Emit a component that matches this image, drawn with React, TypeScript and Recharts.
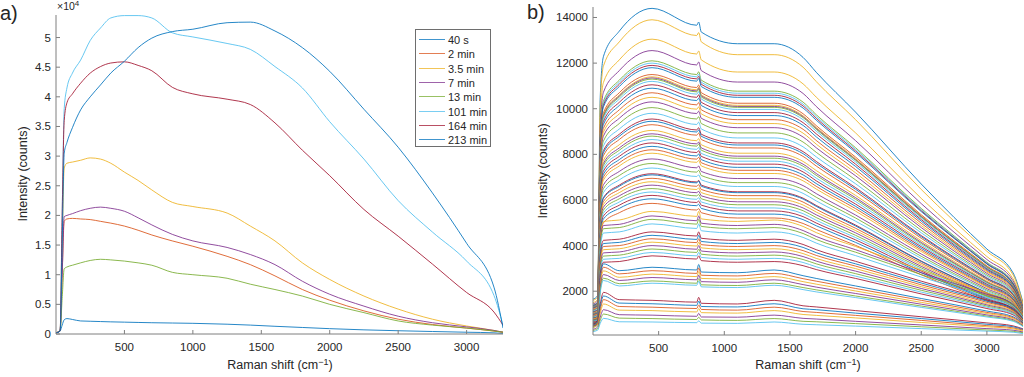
import { LineChart, Line, XAxis, YAxis } from "recharts";

const FONT = "'Liberation Sans', Arial, Helvetica, sans-serif";
const AX = "#7f7f7f";
const TX = "#262626";
const PALETTE = ["#0072BD", "#D95319", "#EDB120", "#7E2F8E", "#77AC30", "#4DBEEE", "#A2142F"];

// ---- panel a ----
const A_X = [0, 30, 45, 60, 80, 120, 180, 250, 325, 400, 500, 600, 700, 850, 1000, 1250, 1420, 1600, 1800, 2000, 2250, 2500, 2750, 3000, 3200, 3266];
const A_NAMES = ["40 s", "2 min", "3.5 min", "7 min", "13 min", "101 min", "164 min", "213 min"];
const A_COLORS = ["#0072BD", "#D95319", "#EDB120", "#7E2F8E", "#77AC30", "#4DBEEE", "#A2142F", "#0072BD"];
const a40s = [200, 500, 1500, 2400, 2600, 2450, 2200, 2150, 2100, 2050, 2000, 1950, 1900, 1850, 1800, 1650, 1500, 1300, 1100, 900, 700, 550, 420, 300, 200, 100];
const a2min = [200, 600, 10000, 19000, 19400, 19500, 19400, 19300, 19000, 18700, 18200, 17500, 16700, 15700, 14800, 13100, 11700, 9800, 7500, 5700, 3900, 2500, 1600, 1000, 500, 300];
const a35min = [200, 700, 15000, 28000, 28800, 29000, 29300, 29700, 29500, 28800, 27300, 25900, 24300, 22200, 21500, 20400, 18200, 15700, 12000, 9200, 6400, 4200, 2500, 1350, 600, 300];
const a7min = [200, 600, 10000, 19800, 20000, 20300, 20800, 21200, 21400, 21200, 20700, 19600, 18400, 16800, 15700, 14600, 13400, 11700, 8900, 6700, 4700, 3000, 1900, 1200, 600, 300];
const a13min = [200, 500, 6000, 11000, 11300, 11600, 12000, 12400, 12600, 12500, 12300, 12000, 11600, 10400, 10000, 9400, 8400, 7500, 6400, 5000, 3600, 2200, 1500, 1000, 500, 300];
const a101min = [200, 500, 20000, 38000, 41500, 44000, 46200, 49500, 51600, 53300, 53700, 53700, 53300, 50800, 50100, 49000, 48000, 45100, 41500, 35800, 29500, 22500, 17200, 12300, 6500, 1500];
const a164min = [200, 500, 20000, 36000, 39000, 40500, 42300, 44000, 45100, 45700, 45900, 45300, 44400, 41600, 40500, 39600, 38700, 35600, 31000, 26700, 21000, 16500, 11800, 7000, 3700, 1500];
const a213min = [200, 500, 15000, 30500, 32300, 34800, 37800, 40000, 42000, 44000, 46000, 48300, 49900, 51000, 51400, 52500, 52600, 51100, 48300, 44300, 37900, 31500, 23800, 15300, 7900, 1000];
const A_SERIES = [a40s, a2min, a35min, a7min, a13min, a101min, a164min, a213min];
const A_XTICKS = [500, 1000, 1500, 2000, 2500, 3000];
const A_YTICKS = [0, 5000, 10000, 15000, 20000, 25000, 30000, 35000, 40000, 45000, 50000];

// ---- panel b ----
const B_X = [0, 35, 55, 80, 200, 450, 790, 805, 825, 1100, 1380, 1600, 1700, 2000, 2500, 3000, 3200, 3275];
const B_TOP = [
  [1650, 1800, 10500, 12300, 13400, 14400, 13660, 13800, 13360, 12850, 12850, 12250, 11600, 9850, 6700, 3850, 2800, 1500],
  [1600, 1740, 10150, 11880, 12930, 13900, 13210, 13340, 12930, 12370, 12370, 11820, 11190, 9520, 6460, 3750, 2710, 1460],
  [1500, 1630, 9530, 11160, 12140, 13050, 12400, 12530, 12140, 11610, 11610, 11090, 10510, 8940, 6070, 3520, 2540, 1370],
  [1440, 1570, 9160, 10730, 11670, 12550, 11920, 12050, 11670, 11170, 11170, 10670, 10100, 8600, 5840, 3390, 2450, 1320],
];
const B_G7 = [
  [1390, 1510, 8830, 10350, 11250, 12100, 11500, 11620, 11250, 10770, 10770, 10290, 9740, 8290, 5630, 3270, 2360, 1270],
  [1380, 1500, 8760, 10260, 11160, 12000, 11400, 11520, 11160, 10680, 10680, 10200, 9660, 8220, 5580, 3240, 2340, 1260],
  [1370, 1490, 8690, 10170, 11070, 11900, 11310, 11420, 11070, 10590, 10590, 10120, 9580, 8150, 5530, 3210, 2320, 1250],
  [1360, 1480, 8610, 10090, 10970, 11800, 11210, 11330, 10970, 10500, 10500, 10030, 9500, 8080, 5490, 3190, 2300, 1240],
  [1320, 1440, 8400, 9830, 10700, 11500, 10930, 11040, 10700, 10240, 10240, 9780, 9260, 7880, 5350, 3110, 2240, 1210],
  [1310, 1430, 8320, 9750, 10600, 11400, 10830, 10940, 10600, 10150, 10150, 9690, 9180, 7810, 5300, 3080, 2220, 1200],
  [1310, 1420, 8290, 9700, 10560, 11350, 10780, 10900, 10560, 10100, 10100, 9650, 9140, 7770, 5280, 3060, 2210, 1190],
  [1300, 1410, 8250, 9660, 10510, 11300, 10740, 10850, 10510, 10060, 10060, 9610, 9100, 7740, 5250, 3050, 2200, 1190],
  [1290, 1400, 8180, 9580, 10420, 11200, 10640, 10750, 10420, 9970, 9970, 9520, 9020, 7670, 5210, 3020, 2180, 1180],
  [1270, 1380, 8070, 9450, 10280, 11050, 10500, 10610, 10280, 9830, 9830, 9390, 8900, 7570, 5140, 2980, 2150, 1160],
  [1250, 1360, 7960, 9320, 10140, 10900, 10360, 10460, 10140, 9700, 9700, 9270, 8770, 7470, 5070, 2940, 2130, 1140],
  [1230, 1340, 7810, 9150, 9950, 10700, 10170, 10270, 9950, 9520, 9520, 9100, 8610, 7330, 4980, 2890, 2090, 1120],
  [1210, 1310, 7670, 8980, 9770, 10500, 9980, 10080, 9770, 9350, 9350, 8930, 8450, 7190, 4880, 2840, 2050, 1100],
  [1180, 1290, 7520, 8810, 9580, 10300, 9790, 9890, 9580, 9170, 9170, 8760, 8290, 7060, 4790, 2780, 2010, 1080],
  [1160, 1260, 7340, 8590, 9350, 10050, 9550, 9650, 9350, 8940, 8940, 8540, 8090, 6880, 4670, 2710, 1960, 1060],
  [1130, 1230, 7150, 8380, 9110, 9800, 9310, 9410, 9110, 8720, 8720, 8330, 7890, 6710, 4560, 2650, 1910, 1030],
  [1100, 1190, 6970, 8170, 8880, 9550, 9070, 9170, 8880, 8500, 8500, 8120, 7690, 6540, 4440, 2580, 1860, 1000],
];
const B_G6 = [
  [1090, 1180, 6900, 8080, 8790, 9450, 8980, 9070, 8790, 8410, 8410, 8030, 7610, 6470, 4390, 2550, 1840, 990],
  [1070, 1160, 6790, 7950, 8650, 9300, 8840, 8930, 8650, 8280, 8280, 7910, 7490, 6370, 4320, 2510, 1810, 980],
  [1040, 1130, 6610, 7740, 8420, 9050, 8600, 8690, 8420, 8050, 8050, 7690, 7290, 6200, 4210, 2440, 1760, 950],
  [1020, 1110, 6500, 7610, 8280, 8900, 8460, 8540, 8280, 7920, 7920, 7570, 7160, 6100, 4140, 2400, 1740, 930],
  [1010, 1100, 6420, 7520, 8180, 8800, 8360, 8450, 8180, 7830, 7830, 7480, 7080, 6030, 4090, 2380, 1720, 920],
  [990, 1080, 6310, 7400, 8040, 8650, 8220, 8300, 8040, 7700, 7700, 7350, 6960, 5930, 4020, 2340, 1690, 910],
  [980, 1060, 6210, 7270, 7910, 8500, 8080, 8160, 7910, 7570, 7570, 7230, 6840, 5820, 3950, 2300, 1660, 890],
  [960, 1040, 6100, 7140, 7770, 8350, 7930, 8020, 7770, 7430, 7430, 7100, 6720, 5720, 3880, 2250, 1630, 880],
  [940, 1030, 5990, 7010, 7630, 8200, 7790, 7870, 7630, 7300, 7300, 6970, 6600, 5620, 3810, 2210, 1600, 860],
  [930, 1010, 5880, 6880, 7490, 8050, 7650, 7730, 7490, 7160, 7160, 6840, 6480, 5510, 3740, 2170, 1570, 850],
  [900, 980, 5690, 6670, 7250, 7800, 7410, 7490, 7250, 6940, 6940, 6630, 6280, 5340, 3630, 2110, 1520, 820],
  [870, 950, 5550, 6500, 7070, 7600, 7220, 7300, 7070, 6760, 6760, 6460, 6120, 5210, 3530, 2050, 1480, 800],
  [850, 930, 5400, 6330, 6880, 7400, 7030, 7100, 6880, 6590, 6590, 6290, 5960, 5070, 3440, 2000, 1440, 780],
  [820, 890, 5220, 6110, 6650, 7150, 6790, 6860, 6650, 6360, 6360, 6080, 5760, 4900, 3320, 1930, 1390, 750],
];
const B_G5 = [
  [820, 890, 5180, 6070, 6600, 7100, 6750, 6820, 6600, 6320, 6320, 6040, 5720, 4860, 3300, 1920, 1380, 750],
  [800, 870, 5070, 5940, 6460, 6950, 6600, 6670, 6460, 6190, 6190, 5910, 5590, 4760, 3230, 1880, 1360, 730],
  [780, 850, 4960, 5810, 6320, 6800, 6460, 6530, 6320, 6050, 6050, 5780, 5470, 4660, 3160, 1840, 1330, 710],
  [760, 830, 4850, 5690, 6180, 6650, 6320, 6380, 6180, 5920, 5920, 5650, 5350, 4560, 3090, 1800, 1300, 700],
  [750, 810, 4750, 5560, 6050, 6500, 6180, 6240, 6050, 5790, 5790, 5530, 5230, 4450, 3020, 1760, 1270, 680],
  [730, 790, 4640, 5430, 5910, 6350, 6030, 6100, 5910, 5650, 5650, 5400, 5110, 4350, 2950, 1710, 1240, 670],
  [710, 780, 4530, 5300, 5770, 6200, 5890, 5950, 5770, 5520, 5520, 5270, 4990, 4250, 2880, 1670, 1210, 650],
  [700, 760, 4420, 5170, 5630, 6050, 5750, 5810, 5630, 5380, 5380, 5140, 4870, 4140, 2810, 1630, 1180, 640],
  [670, 730, 4270, 5000, 5440, 5850, 5560, 5620, 5440, 5210, 5210, 4970, 4710, 4010, 2720, 1580, 1140, 610],
];
const B_G4 = [
  [770, 830, 4290, 5060, 5120, 5500, 5280, 5500, 5170, 5060, 5120, 4840, 4570, 3960, 2920, 1930, 1490, 940],
  [740, 800, 4130, 4880, 4930, 5300, 5090, 5300, 4980, 4880, 4930, 4660, 4400, 3820, 2810, 1860, 1430, 900],
  [720, 770, 4020, 4740, 4790, 5150, 4940, 5150, 4840, 4740, 4790, 4530, 4270, 3710, 2730, 1800, 1390, 880],
  [690, 740, 3860, 4550, 4600, 4950, 4750, 4950, 4650, 4550, 4600, 4360, 4110, 3560, 2620, 1730, 1340, 840],
];
const B_G3 = [
  [640, 690, 3590, 4230, 4280, 4600, 4420, 4600, 4320, 4230, 4280, 4050, 3820, 3310, 2440, 1610, 1240, 780],
  [620, 670, 3470, 4090, 4140, 4450, 4270, 4450, 4180, 4090, 4140, 3920, 3690, 3200, 2360, 1560, 1200, 760],
  [600, 650, 3350, 3960, 4000, 4300, 4130, 4300, 4040, 3960, 4000, 3780, 3570, 3100, 2280, 1510, 1160, 730],
  [580, 620, 3240, 3820, 3860, 4150, 3980, 4150, 3900, 3820, 3860, 3650, 3440, 2990, 2200, 1450, 1120, 710],
  [560, 600, 3120, 3680, 3720, 4000, 3840, 4000, 3760, 3680, 3720, 3520, 3320, 2880, 2120, 1400, 1080, 680],
  [540, 580, 3000, 3540, 3580, 3850, 3700, 3850, 3620, 3540, 3580, 3390, 3200, 2770, 2040, 1350, 1040, 650],
  [520, 560, 2890, 3400, 3440, 3700, 3550, 3700, 3480, 3400, 3440, 3260, 3070, 2660, 1960, 1300, 1000, 630],
  [500, 530, 2770, 3270, 3300, 3550, 3410, 3550, 3340, 3270, 3300, 3120, 2950, 2560, 1880, 1240, 960, 600],
];
const B_G2 = [
  [550, 670, 2500, 3200, 2900, 3050, 2930, 3170, 2840, 2810, 2930, 2680, 2560, 2230, 1680, 1130, 880, 580],
  [520, 640, 2380, 3050, 2760, 2900, 2780, 3020, 2700, 2670, 2780, 2550, 2440, 2120, 1600, 1070, 840, 550],
  [500, 610, 2260, 2890, 2610, 2750, 2640, 2860, 2560, 2530, 2640, 2420, 2310, 2010, 1510, 1020, 800, 520],
  [470, 570, 2130, 2730, 2470, 2600, 2500, 2700, 2420, 2390, 2500, 2290, 2180, 1900, 1430, 960, 750, 490],
  [440, 540, 2010, 2570, 2330, 2450, 2350, 2550, 2280, 2250, 2350, 2160, 2060, 1790, 1350, 910, 710, 470],
  [420, 520, 1930, 2470, 2230, 2350, 2260, 2440, 2190, 2160, 2260, 2070, 1970, 1720, 1290, 870, 680, 450],
];
const B_G1 = [
  [560, 720, 1440, 1950, 1630, 1600, 1520, 1730, 1470, 1440, 1600, 1360, 1310, 1150, 880, 610, 480, 350],
  [510, 650, 1310, 1790, 1480, 1450, 1380, 1570, 1330, 1310, 1450, 1230, 1190, 1040, 800, 550, 440, 320],
  [460, 590, 1170, 1630, 1330, 1300, 1240, 1400, 1200, 1170, 1300, 1110, 1070, 940, 720, 490, 390, 290],
  [400, 520, 1040, 1440, 1170, 1150, 1090, 1240, 1060, 1040, 1150, 980, 940, 830, 630, 440, 350, 250],
  [330, 430, 860, 1190, 970, 950, 900, 1030, 870, 860, 950, 810, 780, 680, 520, 360, 290, 210],
  [280, 360, 720, 1000, 820, 800, 760, 860, 740, 720, 800, 680, 660, 580, 440, 300, 240, 180],
  [230, 290, 590, 810, 660, 650, 620, 700, 600, 590, 650, 550, 530, 470, 360, 250, 200, 140],
];
const B_CURVES = [...B_TOP, ...B_G7, ...B_G6, ...B_G5, ...B_G4, ...B_G3, ...B_G2, ...B_G1];
const B_TOP_COLORS = [0, 2, 2, 3];
const B_XTICKS = [500, 1000, 1500, 2000, 2500, 3000];
const B_YTICKS = [2000, 4000, 6000, 8000, 10000, 12000, 14000];

const aRows = A_X.map((x, i) => {
  const r: Record<string, number> = { x };
  A_SERIES.forEach((s, k) => (r["s" + k] = s[i]));
  return r;
});
const bRows = B_X.map((x, i) => {
  const r: Record<string, number> = { x };
  B_CURVES.forEach((c, k) => (r["c" + k] = c[i]));
  return r;
});

const bottomTick = (fmt: (v: number) => string) => (p: any) => (
  <g>
    <line x1={p.x} x2={p.x} y1={p.y} y2={p.y - 4} stroke={AX} />
    <text x={p.x} y={p.y + 17} textAnchor="middle" fontSize={11.5} fill={TX} fontFamily={FONT}>
      {fmt(p.payload.value)}
    </text>
  </g>
);
const leftTick = (fmt: (v: number) => string) => (p: any) => (
  <g>
    <line x1={p.x} x2={p.x + 4} y1={p.y} y2={p.y} stroke={AX} />
    <text x={p.x - 5} y={p.y + 4} textAnchor="end" fontSize={11.5} fill={TX} fontFamily={FONT}>
      {fmt(p.payload.value)}
    </text>
  </g>
);
const topTick = (p: any) => <line x1={p.x} x2={p.x} y1={p.y} y2={p.y + 4} stroke={AX} />;
const rightTick = (p: any) => <line x1={p.x} x2={p.x - 4} y1={p.y} y2={p.y} stroke={AX} />;

const txt = (style: React.CSSProperties): React.CSSProperties => ({
  position: "absolute",
  fontFamily: FONT,
  color: TX,
  whiteSpace: "nowrap",
  ...style,
});

const RamanLabel = ({ cx }: { cx: number }) => (
  <div style={txt({ left: cx - 70, width: 140, top: 358, fontSize: 12.5, textAlign: "center" })}>
    Raman shift (cm<sup style={{ fontSize: 9, verticalAlign: "4px", lineHeight: 0 }}>−1</sup>)
  </div>
);
const IntensityLabel = ({ cx, cy }: { cx: number; cy: number }) => (
  <div
    style={txt({
      left: cx - 60,
      top: cy - 8,
      width: 120,
      fontSize: 12.5,
      textAlign: "center",
      lineHeight: "16px",
      transform: "rotate(-90deg)",
    })}
  >
    Intensity (counts)
  </div>
);

// legend for panel a, drawn as svg so the swatch lines keep their colours
const LegendA = () => (
  <svg width={76} height={118} style={{ position: "absolute", left: 415, top: 29 }}>
    <rect x={0.5} y={0.5} width={75} height={117} fill="#fff" stroke="#6e6e6e" />
    {A_NAMES.map((n, k) => {
      const cy = Math.round(10 + 14.3 * k) + 0.5;
      return (
        <g key={n}>
          <line x1={4} x2={30} y1={cy} y2={cy} stroke={A_COLORS[k]} strokeOpacity={0.75} />
          <text x={33} y={cy + 4} fontSize={11} fill={TX} fontFamily={FONT}>
            {n}
          </text>
        </g>
      );
    })}
  </svg>
);

export default function App() {
  return (
    <div style={{ position: "absolute", left: 0, top: 0, width: 1024, height: 377, background: "#fff", overflow: "hidden" }}>
      {/* panel a */}
      <div style={{ position: "absolute", left: 0, top: 0 }}>
        <LineChart width={510} height={377} data={aRows} margin={{ top: 15, right: 7, bottom: 13, left: 6 }}>
          <XAxis xAxisId="b" dataKey="x" type="number" domain={[0, 3266]} allowDataOverflow ticks={A_XTICKS} interval={0}
            height={30} tickSize={0} tickMargin={0} axisLine={{ stroke: AX }} tick={bottomTick((v) => String(v))} />
          <XAxis xAxisId="t" orientation="top" dataKey="x" type="number" domain={[0, 3266]} allowDataOverflow ticks={A_XTICKS}
            interval={0} height={0} tickSize={0} tickMargin={0} axisLine={{ stroke: AX }} tick={topTick} />
          <YAxis yAxisId="l" type="number" domain={[0, 53800]} allowDataOverflow ticks={A_YTICKS} interval={0} width={50}
            tickSize={0} tickMargin={0} axisLine={{ stroke: AX }} tick={leftTick((v) => String(v / 10000))} />
          <YAxis yAxisId="r" orientation="right" type="number" domain={[0, 53800]} allowDataOverflow ticks={A_YTICKS}
            interval={0} width={0} tickSize={0} tickMargin={0} axisLine={{ stroke: AX }} tick={rightTick} />
          {A_SERIES.map((_, k) => (
            <Line key={k} xAxisId="b" yAxisId="l" dataKey={"s" + k} stroke={A_COLORS[k]} strokeWidth={1}
              strokeOpacity={0.85} dot={false} type="monotone" isAnimationActive={false} />
          ))}
        </LineChart>
      </div>
      <div style={txt({ left: 0, top: 2, fontSize: 20 })}>a)</div>
      <div style={txt({ left: 57, top: 0, fontSize: 10.5 })}>
        ×10<sup style={{ fontSize: 8, verticalAlign: "4px", lineHeight: 0 }}>4</sup>
      </div>
      <IntensityLabel cx={23} cy={174} />
      <RamanLabel cx={280} />
      <LegendA />

      {/* panel b */}
      <div style={{ position: "absolute", left: 512, top: 0 }}>
        <LineChart width={512} height={377} data={bRows} margin={{ top: 7, right: 1, bottom: 12, left: 21 }}>
          <XAxis xAxisId="b" dataKey="x" type="number" domain={[0, 3275]} allowDataOverflow ticks={B_XTICKS} interval={0}
            height={30} tickSize={0} tickMargin={0} axisLine={{ stroke: AX }} tick={bottomTick((v) => String(v))} />
          <XAxis xAxisId="t" orientation="top" dataKey="x" type="number" domain={[0, 3275]} allowDataOverflow ticks={B_XTICKS}
            interval={0} height={0} tickSize={0} tickMargin={0} axisLine={{ stroke: AX }} tick={topTick} />
          <YAxis yAxisId="l" type="number" domain={[80, 14460]} allowDataOverflow ticks={B_YTICKS} interval={0} width={60}
            tickSize={0} tickMargin={0} axisLine={{ stroke: AX }} tick={leftTick((v) => String(v))} />
          <YAxis yAxisId="r" orientation="right" type="number" domain={[80, 14460]} allowDataOverflow ticks={B_YTICKS}
            interval={0} width={0} tickSize={0} tickMargin={0} axisLine={{ stroke: AX }} tick={rightTick} />
          {B_CURVES.map((_, k) => (
            <Line key={k} xAxisId="b" yAxisId="l" dataKey={"c" + k}
              stroke={PALETTE[k < B_TOP_COLORS.length ? B_TOP_COLORS[k] : k % 7]} strokeWidth={1} strokeOpacity={0.85}
              dot={false} type="monotone" isAnimationActive={false} />
          ))}
        </LineChart>
      </div>
      <div style={txt({ left: 527, top: 1, fontSize: 20 })}>b)</div>
      <IntensityLabel cx={543} cy={171} />
      <RamanLabel cx={808} />
    </div>
  );
}
